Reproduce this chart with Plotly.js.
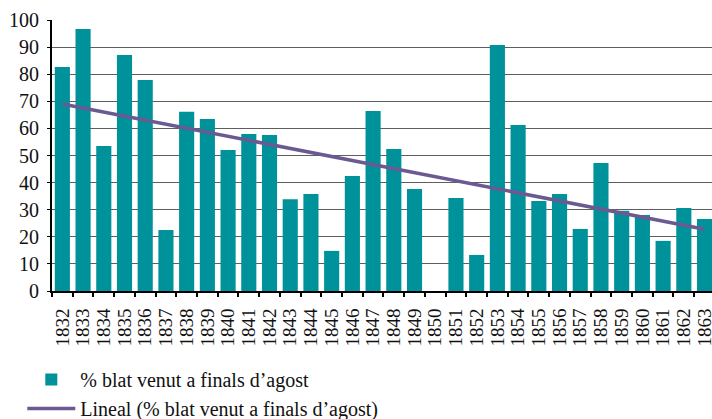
<!DOCTYPE html>
<html>
<head>
<meta charset="utf-8">
<script src="https://cdn.plot.ly/plotly-3.0.1.min.js"></script>
<style>
html,body{margin:0;padding:0;background:#fff;}
#chart{width:712px;height:419px;}
</style>
</head>
<body>
<div id="chart"></div>
<div id="after"></div>
<script>
const years = ['1832','1833','1834','1835','1836','1837','1838','1839','1840','1841','1842','1843','1844','1845','1846','1847','1848','1849','1850','1851','1852','1853','1854','1855','1856','1857','1858','1859','1860','1861','1862','1863'];
const pctSold = [82.7,96.7,53.5,87.1,77.9,22.5,66.1,63.5,52.0,57.9,57.6,33.9,35.8,14.8,42.4,66.4,52.4,37.6,null,34.3,13.3,90.8,61.3,33.2,35.8,22.9,47.2,29.6,28.0,18.5,30.6,26.6];
const trendYears = ['1832','1863'];
const trendValues = [69.0, 22.8];
const barName = '% blat venut a finals d’agost';
const trendName = 'Lineal (% blat venut a finals d’agost)';

const serif = 'Liberation Serif, DejaVu Serif, serif';

const data = [
  {type:'bar', x: years, y: pctSold, name: barName,
   marker:{color:'#00929A'}},
  {type:'scatter', mode:'lines', x: trendYears, y: trendValues, name: trendName,
   line:{color:'#6B5A92', width:3.5}}
];

const layout = {
  width:712, height:419,
  margin:{l:52, r:0, t:20, b:128, autoexpand:false},
  paper_bgcolor:'#fff', plot_bgcolor:'#fff',
  font:{family:serif, size:19, color:'#111'},
  bargap:0.27,
  showlegend:true,
  legend:{orientation:'v', x:-0.045, xanchor:'left', y:-0.255, yanchor:'top',
          font:{family:serif, size:20, color:'#111'}, itemwidth:48,
          tracegroupgap:0, bgcolor:'rgba(0,0,0,0)'},
  xaxis:{type:'category', categoryorder:'array', categoryarray: years,
         range:[-0.5, 31.36], tickangle:-90, tickson:'boundaries',
         tickmode:'linear', dtick:1, automargin:false, ticklabelstandoff:8,
         ticks:'outside', ticklen:4, tickwidth:1.5, tickcolor:'#000',
         showline:true, linecolor:'#000', linewidth:2,
         showgrid:false, fixedrange:true,
         tickfont:{family:serif, size:19, color:'#111'}},
  yaxis:{range:[0,100], dtick:10, tick0:0, automargin:false, ticklabelstandoff:4,
         ticks:'outside', ticklen:3, tickcolor:'#000', tickwidth:1,
         showline:true, linecolor:'#000', linewidth:2,
         showgrid:true, gridcolor:'#5e5e5e', gridwidth:1.3,
         zeroline:false, fixedrange:true,
         tickfont:{family:serif, size:20, color:'#111'}}
};

Plotly.newPlot('chart', data, layout, {displayModeBar:false}).then(gd => {
  gd.querySelectorAll('text').forEach(t => { t.style.fontFamily = "'Liberation Serif', 'DejaVu Serif', serif"; });
});
</script>
</body>
</html>
